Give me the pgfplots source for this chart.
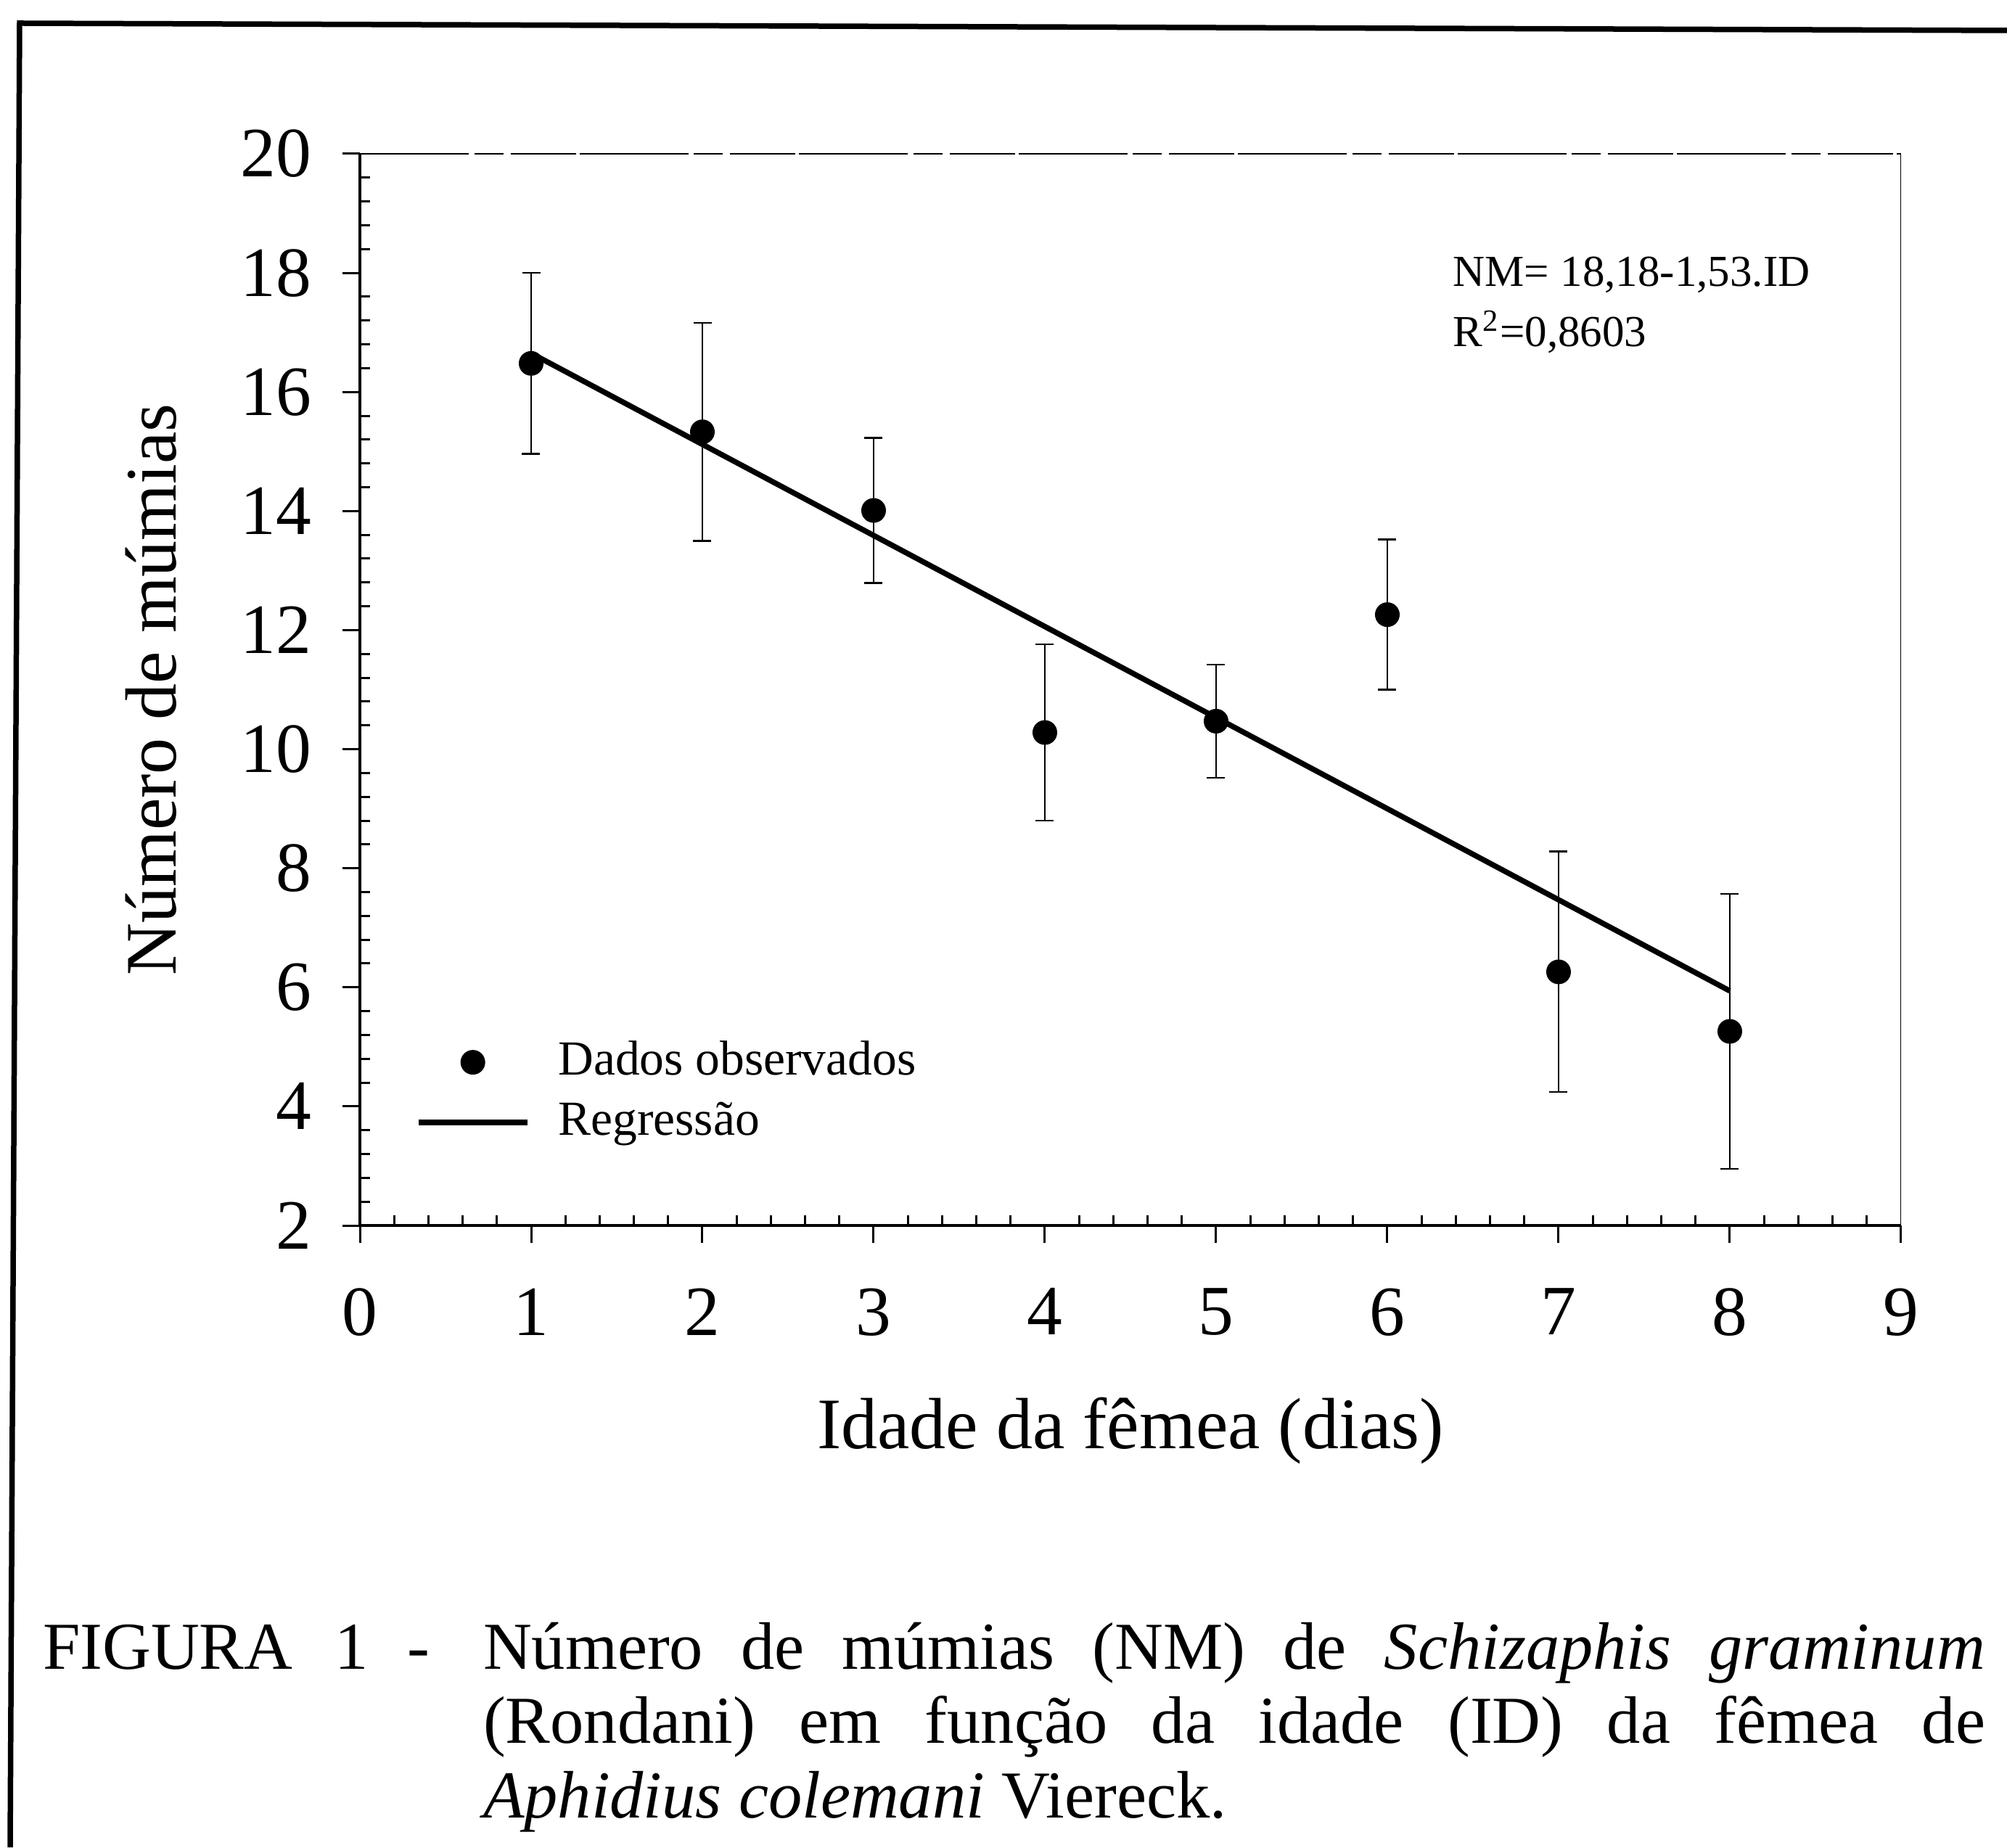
\documentclass[border=0pt]{standalone}
\usepackage{fontspec}
\setmainfont{Liberation Serif}
\usepackage{pgfplots}
\pgfplotsset{compat=1.18}
\pgfplotsset{
  dotlegend/.style={legend image code/.code={\draw[mark repeat=2,mark phase=2,##1] plot coordinates {(0pt,0pt) (15pt,0pt) (30pt,0pt)};}},
  linelegend/.style={legend image code/.code={\draw[##1] (0pt,0pt) -- (30pt,0pt);}},
}
\begin{document}
\begin{tikzpicture}
\useasboundingbox (0,0) rectangle (553.2pt,509.2pt);
% frame of the scanned page
\draw[line width=1.5pt] (2.8pt,0pt) -- (5.4pt,502.8pt) -- (553.2pt,500.8pt);
\begin{axis}[
  at={(99.2pt,171.4pt)}, anchor=south west,
  scale only axis, width=424.8pt, height=295.4pt,
  xmin=0, xmax=9, ymin=2, ymax=20,
  xtick={0,...,9}, ytick={2,4,...,20},
  minor x tick num=4, minor y tick num=4,
  axis x line=bottom, axis y line=left,
  axis line style={-, line width=0.7pt},
  tick align=outside,
  major tick length=4.8pt, minor tick length=2.8pt,
  tick style={black, line width=0.6pt},
  minor x tick style={yshift=2.8pt},
  minor y tick style={xshift=2.8pt},
  /pgf/number format/assume math mode=true,
  ticklabel style={font=\fontsize{19.5}{22}\selectfont},
  xticklabel style={yshift=-9pt},
  yticklabel style={xshift=-5pt},
  xlabel={Idade da fêmea (dias)},
  ylabel={Número de múmias},
  every axis x label/.style={at={(axis description cs:0.5,-0.1916)}, anchor=center,
    font=\fontsize{20}{24}\selectfont},
  every axis y label/.style={at={(axis description cs:-0.1356,0.5)}, rotate=90, anchor=center,
    font=\fontsize{20}{24}\selectfont},
  legend cell align=left,
  legend style={draw=none, fill=none, inner sep=0pt, outer sep=0pt,
    at={(axis cs:0.326,4.235)}, anchor=west,
    row sep=3.6pt, column sep=7.8pt,
    font=\fontsize{13.5}{16}\selectfont,
    nodes={inner sep=0pt, text height=10pt, text depth=3pt}},
]
\addplot+[black, only marks, mark=*, mark size=3.2pt,
  mark options={fill=black}, dotlegend,
  error bars/.cd, y dir=both, y explicit,
  error bar style={line width=0.5pt, black},
  error mark options={rotate=90, mark size=2.5pt, line width=0.5pt, black}]
coordinates {
(1,16.48) +- (0,1.52)
(2,15.33) +- (0,1.83)
(3,14.01) +- (0,1.22)
(4,10.28) +- (0,1.48)
(5,10.47) +- (0,0.95)
(6,12.26) +- (0,1.26)
(7,6.26) +- (0,2.02)
(8,5.26) +- (0,2.31)
};
\addlegendentry{Dados observados}
\addplot[black, line width=1.5pt, linelegend]
coordinates {(1,16.65) (8,5.94)};
\addlegendentry{Regressão}
% top and right frame of the plot area
\draw[line width=0.4pt, dash pattern=on 30pt off 1.5pt on 8pt off 2pt on 18pt off 1pt] (axis cs:0,20) -- (axis cs:9,20);
\draw[line width=0.5pt] (axis cs:9,20) -- (axis cs:9,2);
\node[anchor=base west, inner sep=0pt, font=\fontsize{12.2}{15}\selectfont] at (axis cs:6.38,17.77) {NM= 18,18-1,53.ID};
\node[anchor=base west, inner sep=0pt, font=\fontsize{12.2}{15}\selectfont] at (axis cs:6.38,16.76) {R\textsuperscript{2}=0,8603};
\end{axis}
% caption
\begin{scope}[every node/.style={anchor=base west, inner sep=0pt, font=\fontsize{18.5}{20.5}\selectfont}]
\node at (11.6pt,49.2pt) {FIGURA};
\node at (92pt,49.2pt) {1};
\node at (112pt,49.2pt) {-};
\node at (133pt,49.2pt) {\parbox[t]{414pt}{\fontsize{18.5}{20.5}\selectfont\noindent
Número de múmias (NM) de \textit{Schizaphis graminum}\linebreak
(Rondani) em função da idade (ID) da fêmea de\linebreak
\textit{Aphidius colemani} Viereck.}};
\end{scope}
\end{tikzpicture}
\end{document}
